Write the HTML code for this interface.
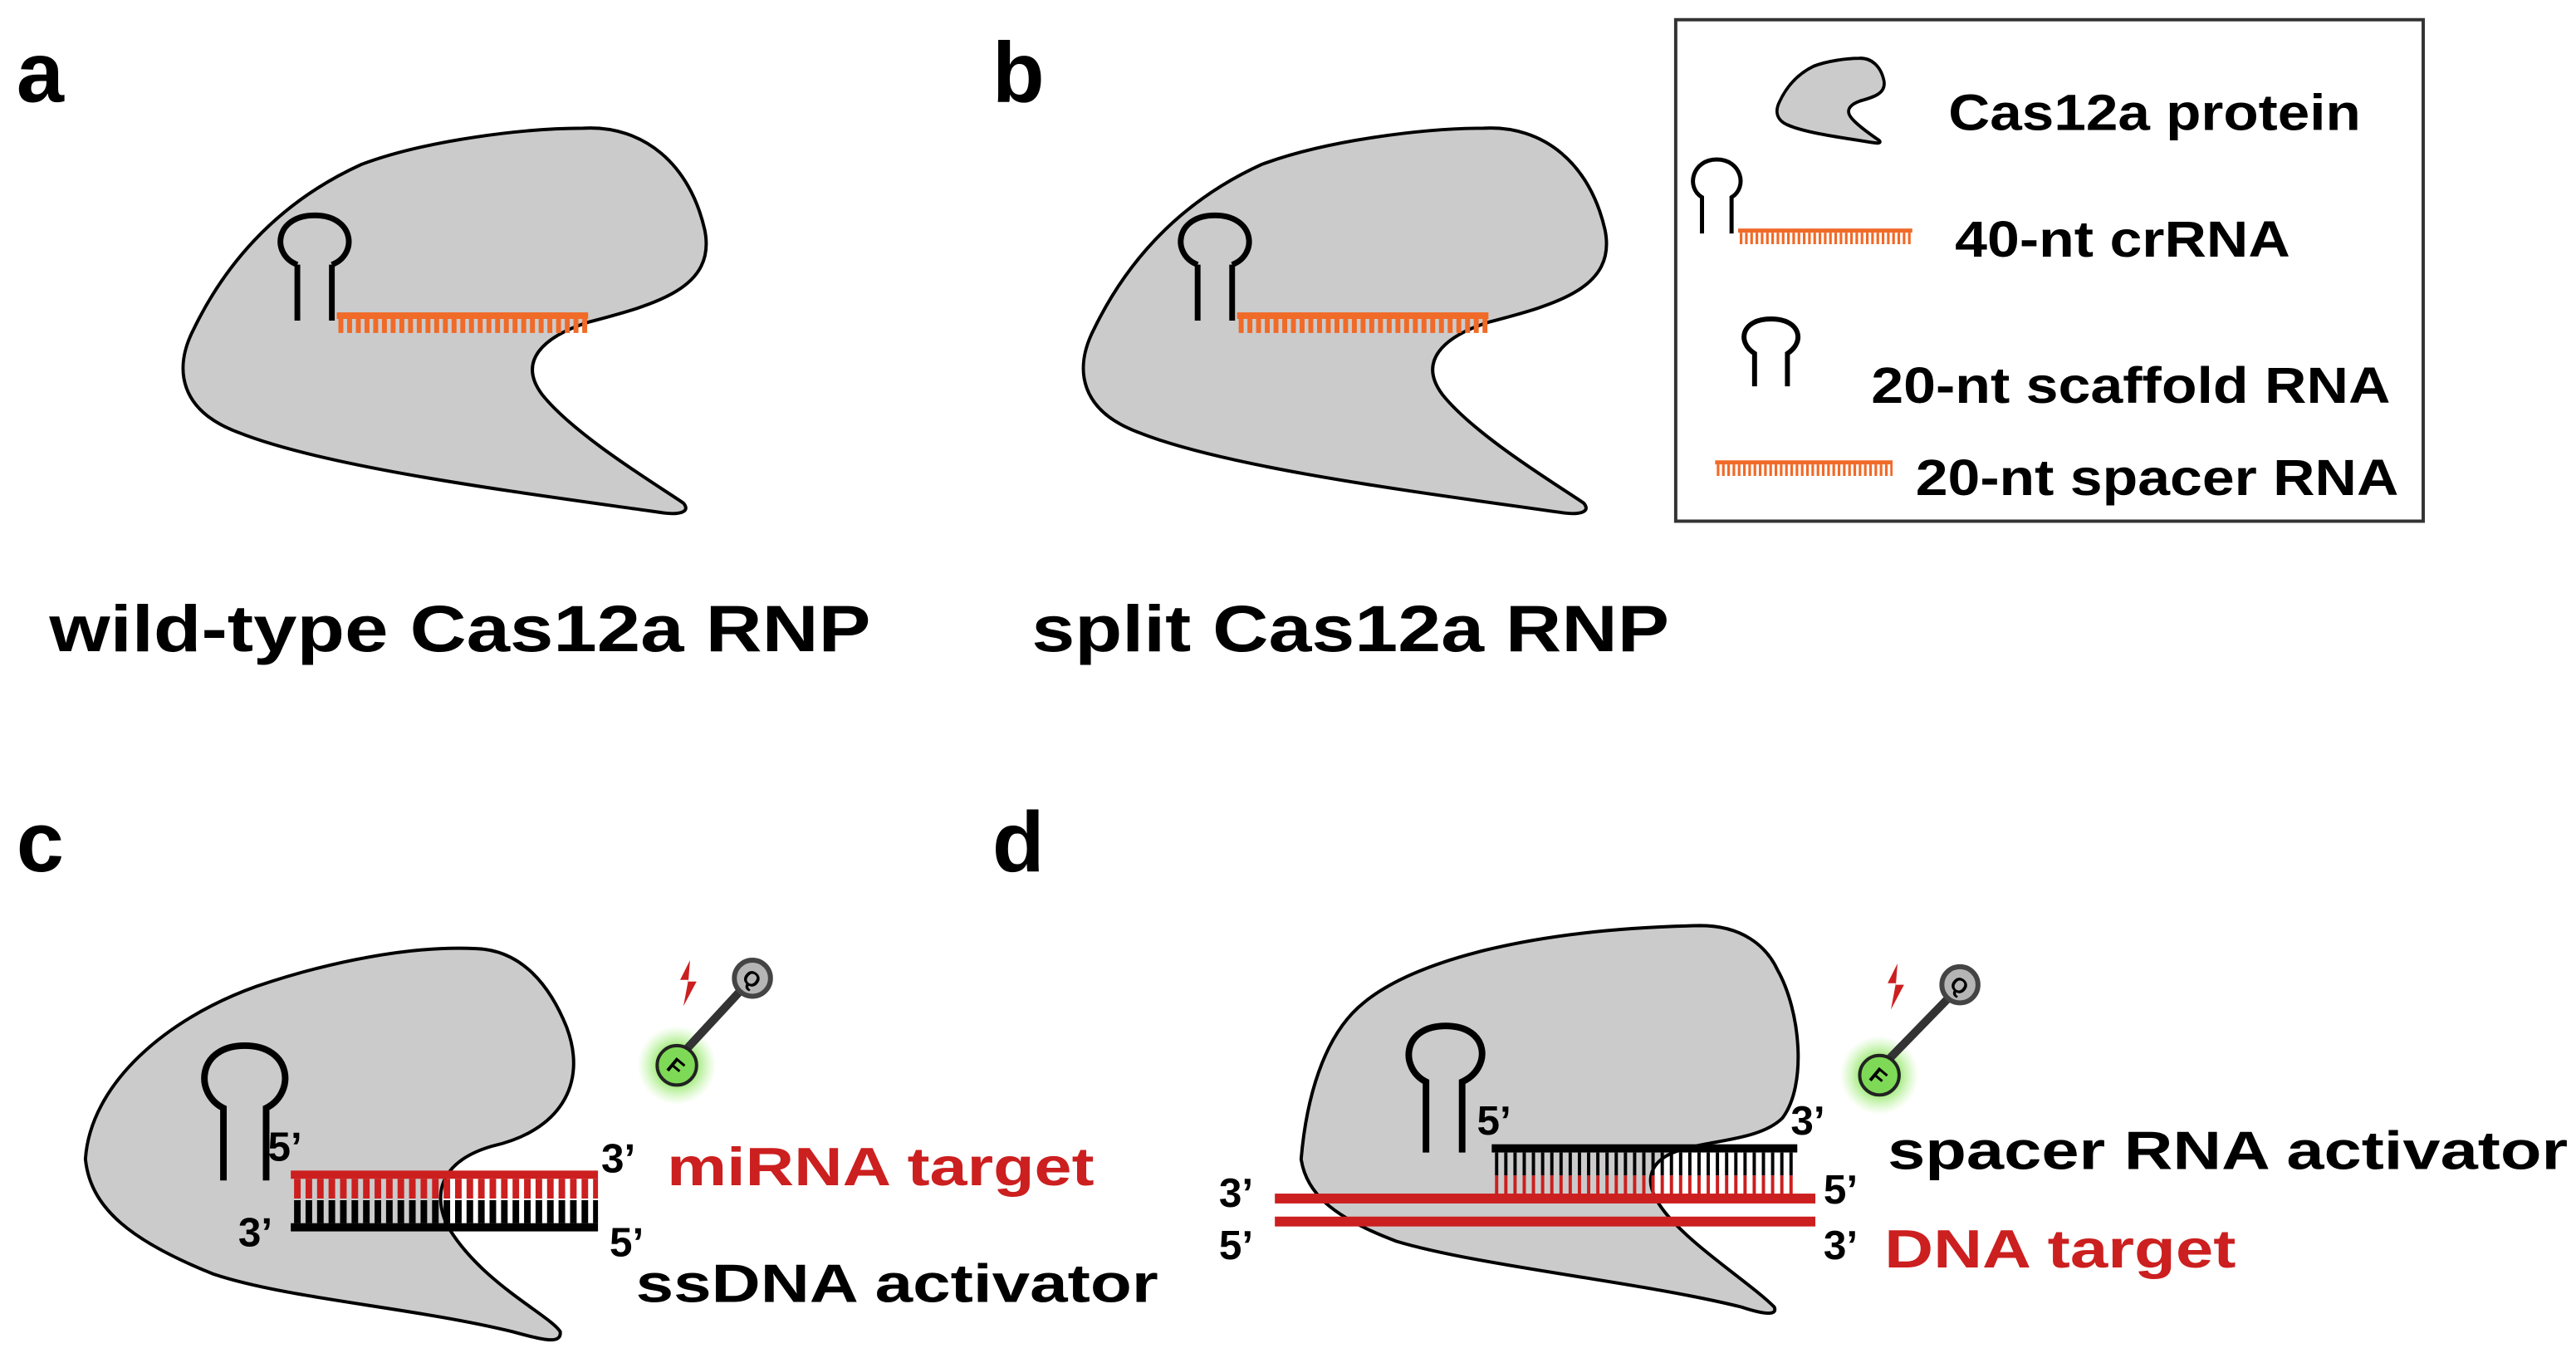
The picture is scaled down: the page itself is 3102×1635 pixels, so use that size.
<!DOCTYPE html>
<html><head><meta charset="utf-8"><style>
html,body{margin:0;padding:0;background:#fff;}
svg{display:block;}
text{font-family:"Liberation Sans",Arial,sans-serif;font-weight:bold;}
</style></head><body>
<svg width="3102" height="1635" viewBox="0 0 1568 826" preserveAspectRatio="none" xmlns="http://www.w3.org/2000/svg">
<defs>
<radialGradient id="glow"><stop offset="0.4" stop-color="#7be04a" stop-opacity="0.9"/><stop offset="1" stop-color="#a8f080" stop-opacity="0"/></radialGradient>
<path id="protpath" d="M355,78 C392,76 420,100 429,140 C436,175 400,185 358,196 C330,205 315,220 330,240 C350,265 400,295 416,306 C421,312 412,313 404,312 C320,300 200,285 145,263 C110,250 105,225 118,200 C135,165 165,125 220,100 C260,85 320,78 355,78 Z"/>
<g id="prot">
<use href="#protpath" fill="#cbcbcb" stroke="#000" stroke-width="2"/>
</g>
<g id="hp">
<path d="M0,0 L0,-34 M21,0 L21,-34" stroke="#000" stroke-width="3.5" fill="none"/>
<path d="M0,-34 C-16,-40 -14,-64 10.5,-64 C35,-64 37,-40 21,-34" stroke="#000" stroke-width="3.5" fill="none"/>
</g>
</defs>

<!-- labels -->
<text x="10" y="62" font-size="52">a</text>
<text x="604" y="62" font-size="52">b</text>
<text x="10" y="530" font-size="52">c</text>
<text x="604" y="530" font-size="52">d</text>
<text x="30" y="396" font-size="40" textLength="500" lengthAdjust="spacingAndGlyphs">wild-type Cas12a RNP</text>
<text x="628" y="396" font-size="40" textLength="388" lengthAdjust="spacingAndGlyphs">split Cas12a RNP</text>

<!-- panel a -->
<use href="#prot"/>
<use href="#hp" x="181" y="195"/>
<rect x="205" y="190" width="153" height="4" fill="#f06a28"/>
<line x1="206" y1="198" x2="358" y2="198" stroke="#f06a28" stroke-width="9" stroke-dasharray="3 2.3"/>

<!-- panel b -->
<use href="#prot" x="548"/>
<use href="#hp" x="729" y="195"/>
<rect x="753" y="190" width="153" height="4" fill="#f06a28"/>
<line x1="754" y1="198" x2="906" y2="198" stroke="#f06a28" stroke-width="9" stroke-dasharray="3 2.3"/>

<!-- legend -->
<rect x="1020" y="12" width="455" height="305" fill="#fff" stroke="#333" stroke-width="2"/>
<g transform="translate(1058.8,18.3) scale(0.205,0.22)">
<use href="#protpath" fill="#cbcbcb" stroke="#000" stroke-width="9"/>
</g>
<text x="1186" y="79" font-size="31" textLength="251" lengthAdjust="spacingAndGlyphs">Cas12a protein</text>
<path d="M1036,142 L1036,120 C1026,114 1030,97 1045,97 C1060,97 1064,114 1054,120 L1054,142" stroke="#000" stroke-width="2.5" fill="none"/>
<rect x="1058" y="139" width="106" height="2.5" fill="#f06a28"/>
<line x1="1059" y1="145" x2="1164" y2="145" stroke="#f06a28" stroke-width="7" stroke-dasharray="1.6 1.6"/>
<text x="1190" y="156" font-size="31" textLength="204" lengthAdjust="spacingAndGlyphs">40-nt crRNA</text>
<path d="M1068,235 L1068,215 C1057,208 1060,194 1078,194 C1096,194 1099,208 1088,215 L1088,235" stroke="#000" stroke-width="3" fill="none"/>
<text x="1139" y="245" font-size="31" textLength="316" lengthAdjust="spacingAndGlyphs">20-nt scaffold RNA</text>
<rect x="1044" y="280" width="108" height="2.5" fill="#f06a28"/>
<line x1="1045" y1="286" x2="1152" y2="286" stroke="#f06a28" stroke-width="7" stroke-dasharray="1.6 1.6"/>
<text x="1166" y="301" font-size="31" textLength="294" lengthAdjust="spacingAndGlyphs">20-nt spacer RNA</text>

<!-- panel c -->
<path d="M290,577 C318,578 335,600 345,625 C358,660 340,688 300,697 C272,705 262,722 272,745 C292,780 335,800 341,810 C342,818 330,815 312,810 C250,795 175,790 130,775 C80,755 55,735 52,705 C55,660 100,620 156,600 C200,585 250,575 290,577 Z" fill="#cbcbcb" stroke="#000" stroke-width="2"/>
<path d="M136,718 L136,674 C118,665 120,636 149,636 C178,636 180,665 162,674 L162,718" stroke="#000" stroke-width="4" fill="none"/>
<rect x="177" y="712" width="187" height="5" fill="#cc1f1f"/>
<line x1="179" y1="723" x2="364" y2="723" stroke="#cc1f1f" stroke-width="12" stroke-dasharray="4 3"/>
<line x1="179" y1="737" x2="364" y2="737" stroke="#000" stroke-width="14" stroke-dasharray="4 3"/>
<rect x="177" y="744" width="187" height="5" fill="#000"/>
<text x="163" y="706" font-size="25">5’</text>
<text x="145" y="758" font-size="25">3’</text>
<text x="366" y="713" font-size="25">3’</text>
<text x="371" y="764" font-size="25">5’</text>
<text x="406" y="721" font-size="33" fill="#cc1f1f" textLength="260" lengthAdjust="spacingAndGlyphs">miRNA target</text>
<text x="387" y="792" font-size="33" textLength="318" lengthAdjust="spacingAndGlyphs">ssDNA activator</text>
<circle cx="412" cy="648" r="24" fill="url(#glow)"/>
<line x1="418" y1="638" x2="455" y2="598" stroke="#333" stroke-width="5"/>
<circle cx="412" cy="648" r="12" fill="#7ed957" stroke="#222" stroke-width="2"/>
<text x="412" y="654" font-size="14" text-anchor="middle" transform="rotate(40 412 648)">F</text>
<circle cx="458" cy="595" r="11" fill="#b5b5b5" stroke="#444" stroke-width="3"/>
<text x="458" y="600" font-size="13" text-anchor="middle" transform="rotate(40 458 595)">Q</text>
<path d="M420,584 L414,596 L419,596 L416,612 L424,597 L419,597 Z" fill="#cc1f1f"/>

<!-- panel d -->
<path d="M1035,563 C1060,563 1075,575 1082,590 C1096,615 1100,660 1085,680 C1065,700 1010,690 1005,715 C1000,740 1060,775 1080,795 C1082,800 1075,800 1060,795 C1000,780 900,770 850,755 C810,740 795,725 792,705 C795,670 805,630 830,610 C860,585 930,565 1035,563 Z" fill="#cbcbcb" stroke="#000" stroke-width="2"/>
<path d="M868,701 L868,658 C852,650 853,624 880,624 C907,624 908,650 890,658 L890,701" stroke="#000" stroke-width="4" fill="none"/>
<rect x="908" y="696" width="186" height="5" fill="#000"/>
<line x1="910" y1="708" x2="1093" y2="708" stroke="#000" stroke-width="14" stroke-dasharray="2 3.6"/>
<line x1="910" y1="721" x2="1093" y2="721" stroke="#cc1f1f" stroke-width="12" stroke-dasharray="2 3.6"/>
<rect x="776" y="726" width="329" height="6" fill="#cc1f1f"/>
<rect x="776" y="740" width="329" height="6" fill="#cc1f1f"/>
<text x="899" y="690" font-size="25">5’</text>
<text x="1090" y="690" font-size="25">3’</text>
<text x="742" y="734" font-size="25">3’</text>
<text x="742" y="766" font-size="25">5’</text>
<text x="1110" y="732" font-size="25">5’</text>
<text x="1110" y="766" font-size="25">3’</text>
<text x="1149" y="711" font-size="33" textLength="414" lengthAdjust="spacingAndGlyphs">spacer RNA activator</text>
<text x="1147" y="771" font-size="33" fill="#cc1f1f" textLength="214" lengthAdjust="spacingAndGlyphs">DNA target</text>
<circle cx="1144" cy="654" r="24" fill="url(#glow)"/>
<line x1="1150" y1="644" x2="1190" y2="603" stroke="#333" stroke-width="5"/>
<circle cx="1144" cy="654" r="12" fill="#7ed957" stroke="#222" stroke-width="2"/>
<text x="1144" y="660" font-size="14" text-anchor="middle" transform="rotate(40 1144 654)">F</text>
<circle cx="1193" cy="599" r="11" fill="#b5b5b5" stroke="#444" stroke-width="3"/>
<text x="1193" y="604" font-size="13" text-anchor="middle" transform="rotate(40 1193 599)">Q</text>
<path d="M1155,586 L1149,598 L1154,598 L1151,614 L1159,599 L1154,599 Z" fill="#cc1f1f"/>
</svg>
</body></html>
